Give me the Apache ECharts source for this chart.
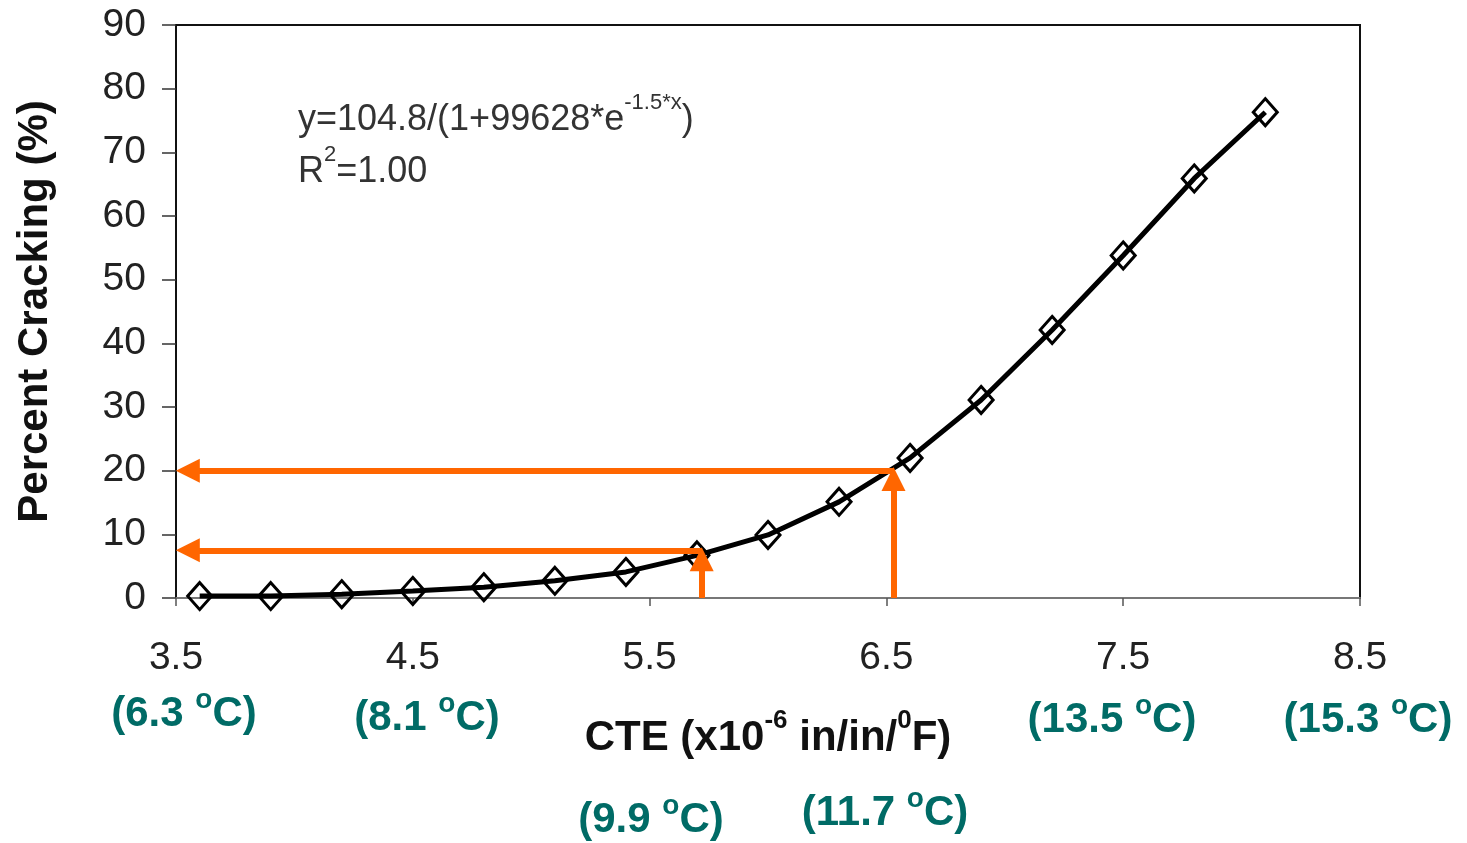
<!DOCTYPE html>
<html>
<head>
<meta charset="utf-8">
<title>Percent Cracking vs CTE</title>
<script src="https://cdn.jsdelivr.net/npm/echarts@6/dist/echarts.min.js"></script>
<style>
    html, body { margin: 0; padding: 0; background: #fff; }
    #chart { width: 1467px; height: 843px; }
</style>
</head>
<body>
<div id="chart"></div>
<script>
// CTE (x10^-6 in/in/F) and fitted percent cracking
var cteValues = [3.6, 3.9, 4.2, 4.5, 4.8, 5.1, 5.4, 5.7, 6.0, 6.3, 6.6, 6.9, 7.2, 7.5, 7.8, 8.1];
var crackingValues = [0.3, 0.3, 0.6, 1.1, 1.7, 2.7, 4.1, 6.7, 9.9, 15.1, 22.0, 31.1, 42.1, 53.8, 65.9, 76.3];

// orange read-off arrows: start point and arrow end point (x, y)
var arrowStarts = [[6.53, 20], [5.72, 7.5], [5.72, 0], [6.53, 0]];
var arrowEnds = [[3.55, 20], [3.55, 7.5], [5.72, 6.1], [6.53, 18.7]];

// Celsius equivalents shown under the axis
var celsiusLabels = ['6.3', '8.1', '9.9', '11.7', '13.5', '15.3'];
var celsiusPos = [[184, 714], [427, 718], [651, 820], [885, 813], [1112, 720], [1368, 720]];

var teal = '#006b66';

var chart = echarts.init(document.getElementById('chart'));

var lineData = [];
for (var i = 0; i < cteValues.length; i++) {
    lineData.push([cteValues[i], crackingValues[i]]);
}
var arrowData = [];
for (var j = 0; j < arrowStarts.length; j++) {
    arrowData.push({coords: [arrowStarts[j], arrowEnds[j]]});
}

// superscripts are raised by giving them a short line box aligned to the top
var eqRich = {
    n: {fontSize: 36, fontFamily: 'Liberation Sans', fill: '#333', lineHeight: 56},
    sup: {fontSize: 22, fontFamily: 'Liberation Sans', fill: '#333', verticalAlign: 'top', lineHeight: 16}
};
var celsiusRich = {
    n: {fontSize: 42, fontWeight: 'bold', fontFamily: 'Liberation Sans', fill: teal, lineHeight: 56},
    o: {fontSize: 28, fontWeight: 'bold', fontFamily: 'Liberation Sans', fill: teal, verticalAlign: 'top', lineHeight: 44}
};

var graphics = [
    {
        type: 'text',
        x: 298,
        y: 120,
        style: {
            text: '{n|y=104.8/(1+99628*e}{sup|-1.5*x}{n|)}',
            verticalAlign: 'middle',
            rich: eqRich
        }
    },
    {
        type: 'text',
        x: 298,
        y: 172,
        style: {
            text: '{n|R}{sup|2}{n|=1.00}',
            verticalAlign: 'middle',
            rich: eqRich
        }
    }
];
celsiusLabels.forEach(function (c, k) {
    graphics.push({
        type: 'text',
        x: celsiusPos[k][0],
        y: celsiusPos[k][1],
        style: {
            text: '{n|(' + c + ' }{o|o}{n|C)}',
            align: 'center',
            verticalAlign: 'middle',
            rich: celsiusRich
        }
    });
});

var option = {
    backgroundColor: '#fff',
    animation: false,
    grid: {
        left: 176,
        right: 107,
        top: 25,
        bottom: 245,
        show: true,
        borderColor: '#111',
        borderWidth: 2
    },
    xAxis: {
        type: 'value',
        min: 3.5,
        max: 8.5,
        interval: 1,
        splitLine: {show: false},
        axisLine: {lineStyle: {color: '#777', width: 2}},
        axisTick: {length: 8, lineStyle: {color: '#555', width: 1.5}},
        axisLabel: {
            margin: 41,
            fontSize: 39,
            fontFamily: 'Liberation Sans',
            color: '#222',
            formatter: function (v) { return v.toFixed(1); }
        },
        name: '{n|CTE (x10}{sup|-6}{n| in/in/}{sup|0}{n|F)}',
        nameLocation: 'middle',
        nameGap: 110,
        nameTextStyle: {
            rich: {
                n: {fontSize: 42, fontWeight: 'bold', fontFamily: 'Liberation Sans', color: '#111', lineHeight: 60},
                sup: {fontSize: 26, fontWeight: 'bold', fontFamily: 'Liberation Sans', color: '#111', verticalAlign: 'top', lineHeight: 20}
            }
        }
    },
    yAxis: {
        type: 'value',
        min: 0,
        max: 90,
        interval: 10,
        splitLine: {show: false},
        axisLine: {show: true, lineStyle: {color: '#111', width: 2}},
        axisTick: {show: true, length: 14, lineStyle: {color: '#333', width: 1.5}},
        axisLabel: {
            margin: 30,
            fontSize: 39,
            fontFamily: 'Liberation Sans',
            color: '#222'
        },
        name: 'Percent Cracking (%)',
        nameLocation: 'middle',
        nameGap: 120,
        nameTextStyle: {
            fontSize: 42,
            fontWeight: 'bold',
            fontFamily: 'Liberation Sans',
            color: '#111'
        }
    },
    series: [
        {
            type: 'line',
            z: 2,
            data: lineData,
            symbol: 'diamond',
            symbolSize: [24, 27],
            showAllSymbol: true,
            lineStyle: {color: '#000', width: 5},
            itemStyle: {color: 'rgba(0,0,0,0)', borderColor: '#000', borderWidth: 3}
        },
        {
            type: 'lines',
            coordinateSystem: 'cartesian2d',
            z: 3,
            symbol: ['none', 'triangle'],
            symbolSize: [24, 24],
            lineStyle: {color: '#ff6600', width: 6, opacity: 1, curveness: 0},
            data: arrowData
        }
    ],
    graphic: graphics
};

chart.setOption(option);
</script>
</body>
</html>
